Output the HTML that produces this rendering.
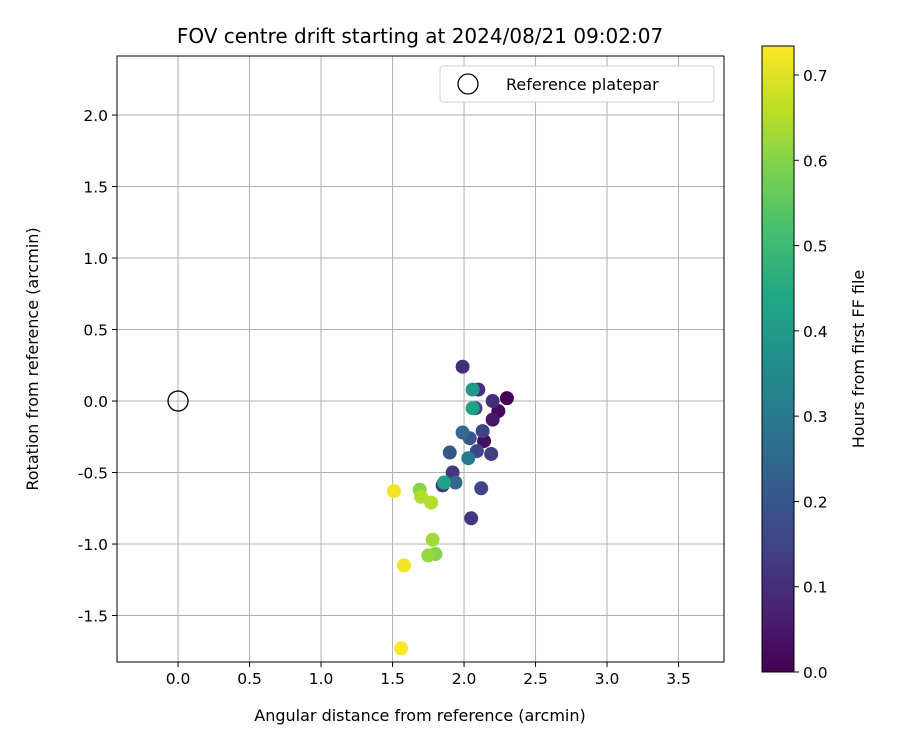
<!DOCTYPE html>
<html><head><meta charset="utf-8"><style>
body{margin:0;background:#fff;}
svg text{font-family:"DejaVu Sans","Liberation Sans",sans-serif;fill:#000;}
</style></head><body>
<svg id="chart" width="900" height="750" xmlns="http://www.w3.org/2000/svg">
<defs><linearGradient id="cbg" x1="0" y1="1" x2="0" y2="0"></linearGradient></defs>
</svg>
<script>
const xVals=[2.30,2.24,2.20,2.14,2.20,2.10,1.99,2.13,2.04,2.09,2.19,1.90,1.99,2.03,1.92,1.85,1.94,1.86,2.12,2.05,2.08,2.06,2.06,1.51,1.69,1.70,1.77,1.78,1.80,1.75,1.58,1.56];
const yVals=[0.02,-0.07,-0.13,-0.28,0.00,0.08,0.24,-0.21,-0.26,-0.35,-0.37,-0.36,-0.22,-0.40,-0.50,-0.59,-0.57,-0.57,-0.61,-0.82,-0.05,0.08,-0.05,-0.63,-0.62,-0.67,-0.71,-0.97,-1.07,-1.08,-1.15,-1.73];
const hours=[0.00,0.02,0.05,0.03,0.10,0.10,0.10,0.15,0.20,0.15,0.13,0.20,0.25,0.30,0.12,0.12,0.25,0.42,0.15,0.12,0.15,0.40,0.42,0.72,0.60,0.65,0.65,0.63,0.60,0.62,0.72,0.73];
const xTicks=[0.0,0.5,1.0,1.5,2.0,2.5,3.0,3.5];
const yTicks=[-1.5,-1.0,-0.5,0.0,0.5,1.0,1.5,2.0];
const cTicks=[0.0,0.1,0.2,0.3,0.4,0.5,0.6,0.7];
const L=117,R=724,T=56,B=662,xMin=-0.427,xMax=3.818,yMin=-1.825,yMax=2.413;
const cbL=762,cbR=794,cbT=46,cbB=672,cMin=0,cMax=0.734;
const sx=v=>L+(v-xMin)/(xMax-xMin)*(R-L);
const sy=v=>B-(v-yMin)/(yMax-yMin)*(B-T);
const sc=v=>cbB-(v-cMin)/(cMax-cMin)*(cbB-cbT);
const vir=[[68,1,84],[72,35,116],[64,67,135],[52,94,141],[41,120,142],[32,144,140],[34,167,132],[68,190,112],[121,209,81],[189,222,38],[253,231,37]];
function col(t){t=Math.max(0,Math.min(1,t));const f=t*10,i=Math.min(9,Math.floor(f)),u=f-i;const a=vir[i],b=vir[i+1];return `rgb(${a.map((c,k)=>Math.round(c+(b[k]-c)*u)).join(',')})`;}
const svg=document.getElementById('chart');const NS='http://www.w3.org/2000/svg';
function mk(tag,attrs,parent){const e=document.createElementNS(NS,tag);for(const k in attrs)e.setAttribute(k,attrs[k]);(parent||svg).appendChild(e);return e;}
const g=document.getElementById('cbg');
for(let i=0;i<=10;i++){mk('stop',{offset:i/10,'stop-color':col(i/10)},g);}
const grid=mk('g',{});
xTicks.forEach(v=>{const x=sx(v);mk('line',{x1:x,x2:x,y1:T,y2:B,stroke:'#b0b0b0','stroke-width':1},grid);
mk('line',{x1:x,x2:x,y1:B,y2:B+5,stroke:'#000'});
const t=mk('text',{x:x,y:B+22,'text-anchor':'middle','font-size':15.5});t.textContent=v.toFixed(1);
});
yTicks.forEach(v=>{const y=sy(v);mk('line',{x1:L,x2:R,y1:y,y2:y,stroke:'#b0b0b0','stroke-width':1},grid);
mk('line',{x1:L-5,x2:L,y1:y,y2:y,stroke:'#000'});
const t=mk('text',{x:L-9,y:y+6,'text-anchor':'end','font-size':15.5});t.textContent=v.toFixed(1);
});
const ref=mk('circle',{cx:sx(0),cy:sy(0),r:10,fill:'none',stroke:'#000','stroke-width':1.3});

hours.forEach((h,i)=>{const c=mk('circle',{cx:sx(xVals[i]),cy:sy(yVals[i]),r:7,fill:col(h/cMax)});
});
const fr=mk('rect',{x:L,y:T,width:R-L,height:B-T,fill:'none',stroke:'#000','stroke-width':1});

const lg=mk('g',{});
mk('rect',{x:440,y:66,width:274,height:36,rx:3,fill:'#fff',stroke:'#d0d0d0'},lg);
mk('circle',{cx:468,cy:84,r:10,fill:'none',stroke:'#000','stroke-width':1.3},lg);
const lt=mk('text',{x:506,y:90,'font-size':16},lg);lt.textContent='Reference platepar';

const title=mk('text',{x:420,y:43,'text-anchor':'middle','font-size':20});title.textContent='FOV centre drift starting at 2024/08/21 09:02:07';

const xt=mk('text',{x:420,y:721,'text-anchor':'middle','font-size':16});xt.textContent='Angular distance from reference (arcmin)';

const yt=mk('text',{x:0,y:0,'text-anchor':'middle','font-size':16,transform:'translate(38,359) rotate(-90)'});yt.textContent='Rotation from reference (arcmin)';

const cb=mk('rect',{x:cbL,y:cbT,width:cbR-cbL,height:cbB-cbT,fill:'url(#cbg)',stroke:'#000','stroke-width':1});

cTicks.forEach(v=>{const y=sc(v);mk('line',{x1:cbR,x2:cbR+5,y1:y,y2:y,stroke:'#000'});
const t=mk('text',{x:cbR+9,y:y+6,'font-size':15.5});t.textContent=v.toFixed(1);
});
const ct=mk('text',{x:0,y:0,'text-anchor':'middle','font-size':16,transform:'translate(864,359) rotate(-90)'});ct.textContent='Hours from first FF file';

</script>
</body></html>
